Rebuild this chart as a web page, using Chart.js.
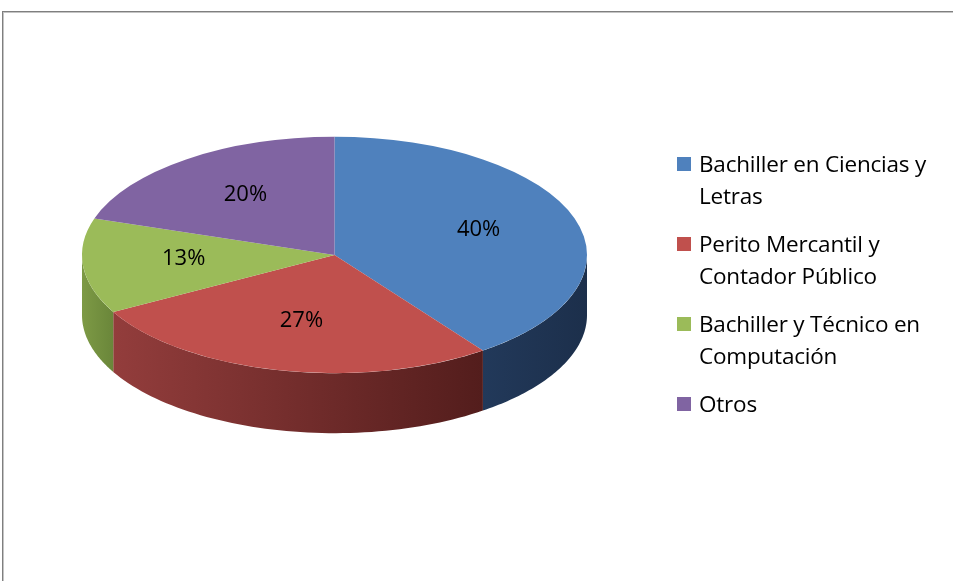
<!DOCTYPE html>
<html>
<head>
<meta charset="utf-8">
<script src="https://cdn.jsdelivr.net/npm/chart.js@4/dist/chart.umd.min.js"></script>
<style>
    html, body { margin: 0; padding: 0; background: #fff; }
    #wrap { position: relative; width: 953px; height: 581px; overflow: hidden; }
    #frame {
        position: absolute; left: 2px; top: 11px; width: 1000px; height: 700px;
        border: 1px solid #7f7f7f; box-shadow: 1px 1px 0 #c4c4c4 inset;
    }
    #chart { position: absolute; left: 0; top: 0; }
    #legend {
        position: absolute; left: 677px; top: 148px;
        font-family: "Open Sans", sans-serif; font-size: 22.5px; color: #000;
        letter-spacing: -0.2px;
    }
    .item { position: relative; padding-left: 22px; line-height: 32px; margin-bottom: 16px; white-space: nowrap; }
    .box { position: absolute; left: 0; top: 9px; width: 14px; height: 14px; }
</style>
</head>
<body>
<div id="wrap">
    <div id="frame"></div>
    <canvas id="chart" width="953" height="581"></canvas>
    <div id="legend"></div>
</div>
<script>
const categories = [
    ['Bachiller en Ciencias y', 'Letras'],
    ['Perito Mercantil y', 'Contador Público'],
    ['Bachiller y Técnico en', 'Computación'],
    ['Otros']
];
const percentValues = [40, 27, 13, 20];
const topColors = ['#4f81bd', '#c0504d', '#9bbb59', '#8064a2'];
const sideColors = [
    ['#22395a', '#1c2f4b'],
    ['#933d3c', '#531d1c'],
    ['#7d9a45', '#6a863a'],
    ['#5f4a7d', '#4d3c66']
];

// squash the pie into an ellipse and give it a side wall
const TILT = 0.468;
const DEPTH = 60;
const CENTER_Y = 255;

function ellipsePoint(cx, cy, rx, t) {
    return [cx + rx * Math.cos(t), cy + rx * TILT * Math.sin(t)];
}

const pie3d = {
    id: 'pie3d',
    beforeDatasetsDraw(chart) {
        const ctx = chart.ctx;
        const meta = chart.getDatasetMeta(0);
        meta.data.forEach((arc, i) => {
            const p = arc.getProps(['x', 'y', 'startAngle', 'endAngle', 'outerRadius'], true);
            // only the front half (0..PI) of the wall is visible
            const lo = Math.max(p.startAngle, 0), hi = Math.min(p.endAngle, Math.PI);
            if (hi <= lo) return;
            const rx = p.outerRadius;
            const steps = 60;
            ctx.save();
            ctx.beginPath();
            for (let s = 0; s <= steps; s++) {
                const t = lo + (hi - lo) * s / steps;
                const [x, y] = ellipsePoint(p.x, CENTER_Y, rx, t);
                if (s === 0) ctx.moveTo(x, y); else ctx.lineTo(x, y);
            }
            for (let s = steps; s >= 0; s--) {
                const t = lo + (hi - lo) * s / steps;
                const [x, y] = ellipsePoint(p.x, CENTER_Y, rx, t);
                ctx.lineTo(x, y + DEPTH);
            }
            ctx.closePath();
            const [x1] = ellipsePoint(p.x, CENTER_Y, rx, hi);
            const [x2] = ellipsePoint(p.x, CENTER_Y, rx, lo);
            const g = ctx.createLinearGradient(x1, 0, x2, 0);
            g.addColorStop(0, sideColors[i][0]);
            g.addColorStop(1, sideColors[i][1]);
            ctx.fillStyle = g;
            ctx.fill();
            ctx.restore();
        });
        const p0 = meta.data[0].getProps(['x', 'y'], true);
        ctx.save();
        ctx.translate(p0.x, CENTER_Y);
        ctx.scale(1, TILT);
        ctx.translate(-p0.x, -p0.y);
    },
    afterDatasetsDraw(chart) {
        const ctx = chart.ctx;
        ctx.restore();
        const meta = chart.getDatasetMeta(0);
        ctx.save();
        ctx.fillStyle = '#000';
        ctx.font = '22px "Open Sans", sans-serif';
        ctx.textAlign = 'center';
        ctx.textBaseline = 'middle';
        meta.data.forEach((arc, i) => {
            const p = arc.getProps(['x', 'startAngle', 'endAngle', 'outerRadius'], true);
            const m = (p.startAngle + p.endAngle) / 2;
            const [x, y] = ellipsePoint(p.x, CENTER_Y - 3, p.outerRadius * 0.6, m);
            ctx.fillText(percentValues[i] + '%', x, y);
        });
        ctx.restore();
    }
};

new Chart(document.getElementById('chart'), {
    type: 'pie',
    data: {
        labels: categories.map(c => c.join(' ')),
        datasets: [{
            data: percentValues,
            backgroundColor: topColors,
            borderWidth: 0
        }]
    },
    options: {
        responsive: false,
        animation: false,
        layout: { padding: { left: 82, right: 366, top: 38, bottom: 38 } },
        plugins: {
            legend: { display: false },
            tooltip: { enabled: false }
        }
    },
    plugins: [pie3d]
});

const legend = document.getElementById('legend');
categories.forEach((lines, i) => {
    const item = document.createElement('div');
    item.className = 'item';
    const box = document.createElement('span');
    box.className = 'box';
    box.style.background = topColors[i];
    item.appendChild(box);
    lines.forEach(line => {
        const d = document.createElement('div');
        d.textContent = line;
        item.appendChild(d);
    });
    legend.appendChild(item);
});
</script>
</body>
</html>
